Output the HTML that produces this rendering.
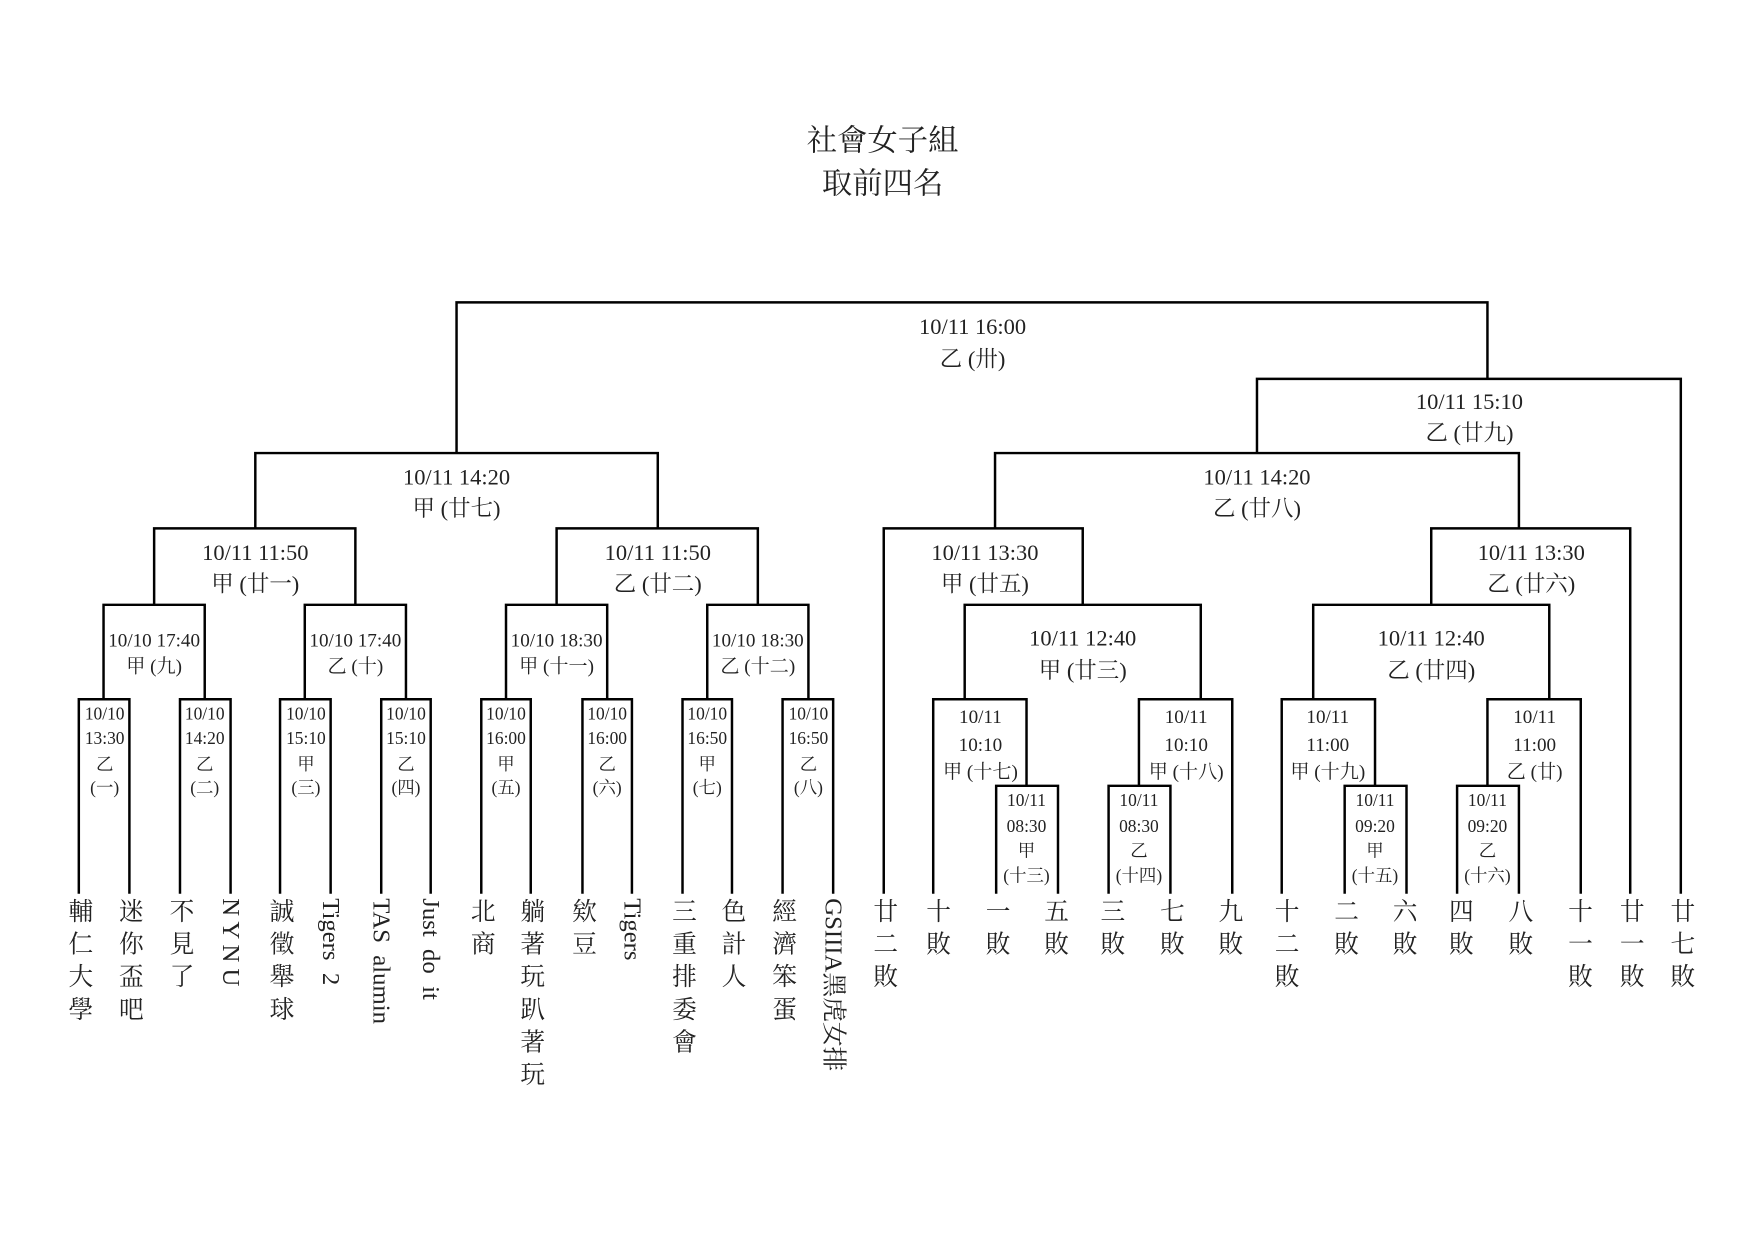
<!DOCTYPE html>
<html><head><meta charset="utf-8"><style>
html,body{margin:0;padding:0;background:#fff;width:1754px;height:1240px;overflow:hidden}
svg{display:block}
text{font-family:"Liberation Serif","Noto Serif CJK SC","Noto Sans CJK TC",serif;fill:#222}
.v{writing-mode:vertical-rl;letter-spacing:7px;font-size:22px}
.r{font-size:22px;dominant-baseline:central}
</style></head><body>
<svg width="1754" height="1240" viewBox="0 0 1560 1103" xmlns="http://www.w3.org/2000/svg">
<g fill="none" stroke="#000" stroke-width="2.2">
<!-- final -->
<path d="M406 403V269H1323V337"/>
<path d="M1118 403V337H1495V795"/>
<path d="M227 470V403H585V470"/>
<path d="M885 470V403H1351V470"/>
<path d="M137 538V470H316V538"/>
<path d="M495 538V470H674V538"/>
<path d="M786 795V470H963V538"/>
<path d="M1273 538V470H1450V795"/>
<path d="M92 622V538H182V622"/>
<path d="M271 622V538H361V622"/>
<path d="M450 622V538H540V622"/>
<path d="M629 622V538H719V622"/>
<path d="M858 622V538H1068V622"/>
<path d="M1168 622V538H1378V622"/>
<path d="M70 795V622H115V795"/>
<path d="M160 795V622H205V795"/>
<path d="M249 795V622H294V795"/>
<path d="M339 795V622H383V795"/>
<path d="M428 795V622H472V795"/>
<path d="M518 795V622H562V795"/>
<path d="M607 795V622H651V795"/>
<path d="M696 795V622H741V795"/>
<path d="M830 795V622H913V699"/>
<path d="M886 795V699H941V795"/>
<path d="M1013 699V622H1096V795"/>
<path d="M986 795V699H1041V795"/>
<path d="M1140 795V622H1223V699"/>
<path d="M1196 795V699H1251V795"/>
<path d="M1323 699V622H1406V795"/>
<path d="M1296 795V699H1351V795"/>
</g>
<g text-anchor="middle">
<text x="785" y="134" font-size="27">社會女子組</text>
<text x="785" y="172" font-size="27">取前四名</text>
<g font-size="20">
<text x="865" y="297">10/11  16:00</text><text x="865" y="326">乙 (卅)</text>
<text x="1307" y="364">10/11  15:10</text><text x="1307" y="392">乙 (廿九)</text>
<text x="406" y="431">10/11 14:20</text><text x="406" y="459">甲 (廿七)</text>
<text x="1118" y="431">10/11  14:20</text><text x="1118" y="459">乙 (廿八)</text>
<text x="227" y="498">10/11 11:50</text><text x="227" y="526">甲 (廿一)</text>
<text x="585" y="498">10/11 11:50</text><text x="585" y="526">乙 (廿二)</text>
<text x="876" y="498">10/11  13:30</text><text x="876" y="526">甲 (廿五)</text>
<text x="1362" y="498">10/11  13:30</text><text x="1362" y="526">乙 (廿六)</text>
<text x="963" y="574">10/11  12:40</text><text x="963" y="603">甲 (廿三)</text>
<text x="1273" y="574">10/11  12:40</text><text x="1273" y="603">乙 (廿四)</text>
</g>
<g font-size="17">
<text x="137" y="575">10/10 17:40</text><text x="137" y="598">甲 (九)</text>
<text x="316" y="575">10/10 17:40</text><text x="316" y="598">乙 (十)</text>
<text x="495" y="575">10/10 18:30</text><text x="495" y="598">甲 (十一)</text>
<text x="674" y="575">10/10 18:30</text><text x="674" y="598">乙 (十二)</text>
<text x="872" y="643">10/11</text><text x="872" y="668">10:10</text><text x="872" y="692">甲 (十七)</text>
<text x="1055" y="643">10/11</text><text x="1055" y="668">10:10</text><text x="1055" y="692">甲 (十八)</text>
<text x="1181" y="643">10/11</text><text x="1181" y="668">11:00</text><text x="1181" y="692">甲 (十九)</text>
<text x="1365" y="643">10/11</text><text x="1365" y="668">11:00</text><text x="1365" y="692">乙 (廿)</text>
</g>
<g font-size="15.5">
<text x="93" y="640">10/10</text><text x="93" y="662">13:30</text><text x="93" y="685">乙</text><text x="93" y="706">(一)</text>
<text x="182" y="640">10/10</text><text x="182" y="662">14:20</text><text x="182" y="685">乙</text><text x="182" y="706">(二)</text>
<text x="272" y="640">10/10</text><text x="272" y="662">15:10</text><text x="272" y="685">甲</text><text x="272" y="706">(三)</text>
<text x="361" y="640">10/10</text><text x="361" y="662">15:10</text><text x="361" y="685">乙</text><text x="361" y="706">(四)</text>
<text x="450" y="640">10/10</text><text x="450" y="662">16:00</text><text x="450" y="685">甲</text><text x="450" y="706">(五)</text>
<text x="540" y="640">10/10</text><text x="540" y="662">16:00</text><text x="540" y="685">乙</text><text x="540" y="706">(六)</text>
<text x="629" y="640">10/10</text><text x="629" y="662">16:50</text><text x="629" y="685">甲</text><text x="629" y="706">(七)</text>
<text x="719" y="640">10/10</text><text x="719" y="662">16:50</text><text x="719" y="685">乙</text><text x="719" y="706">(八)</text>
<text x="913" y="717">10/11</text><text x="913" y="740">08:30</text><text x="913" y="762">甲</text><text x="913" y="784">(十三)</text>
<text x="1013" y="717">10/11</text><text x="1013" y="740">08:30</text><text x="1013" y="762">乙</text><text x="1013" y="784">(十四)</text>
<text x="1223" y="717">10/11</text><text x="1223" y="740">09:20</text><text x="1223" y="762">甲</text><text x="1223" y="784">(十五)</text>
<text x="1323" y="717">10/11</text><text x="1323" y="740">09:20</text><text x="1323" y="762">乙</text><text x="1323" y="784">(十六)</text>
</g>
</g>
<g text-anchor="start">
<text class="v" x="70" y="799">輔仁大學</text>
<text class="v" x="115" y="799">迷你盃吧</text>
<text class="v" x="160" y="799">不見了</text>
<text class="r" x="205" y="799" transform="rotate(90 205 799)" xml:space="preserve">N Y N U</text>
<text class="v" x="249" y="799">誠徵舉球</text>
<text class="r" x="294" y="799" transform="rotate(90 294 799)" xml:space="preserve">Tigers  2</text>
<text class="r" x="339" y="799" transform="rotate(90 339 799)" xml:space="preserve">TAS  alumin</text>
<text class="r" x="383" y="799" transform="rotate(90 383 799)" xml:space="preserve">Just  do  it</text>
<text class="v" x="428" y="799">北商</text>
<text class="v" x="472" y="799">躺著玩趴著玩</text>
<text class="v" x="518" y="799">欸豆</text>
<text class="r" x="562" y="799" transform="rotate(90 562 799)">Tigers</text>
<text class="v" x="607" y="799">三重排委會</text>
<text class="v" x="651" y="799">色計人</text>
<text class="v" x="696" y="799">經濟笨蛋</text>
<text class="r" x="741" y="799" transform="rotate(90 741 799)">GSIIIA黑虎女排</text>
<text class="v" x="786" y="799">廿二敗</text>
<text class="v" x="833" y="799">十敗</text>
<text class="v" x="886" y="799">一敗</text>
<text class="v" x="938" y="799">五敗</text>
<text class="v" x="988" y="799">三敗</text>
<text class="v" x="1041" y="799">七敗</text>
<text class="v" x="1093" y="799">九敗</text>
<text class="v" x="1143" y="799">十二敗</text>
<text class="v" x="1196" y="799">二敗</text>
<text class="v" x="1248" y="799">六敗</text>
<text class="v" x="1298" y="799">四敗</text>
<text class="v" x="1351" y="799">八敗</text>
<text class="v" x="1404" y="799">十一敗</text>
<text class="v" x="1450" y="799">廿一敗</text>
<text class="v" x="1495" y="799">廿七敗</text>
</g>
</svg>
</body></html>
